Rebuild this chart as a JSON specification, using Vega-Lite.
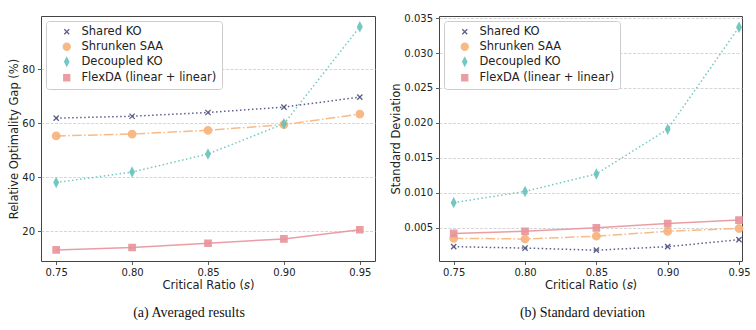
{
  "$schema": "https://vega.github.io/schema/vega-lite/v6.json",
  "padding": {"left": 8, "top": 12, "right": 0, "bottom": 0},
  "background": "white",
  "datasets": {
    "gap": [
      {"ratio": 0.75, "method": "Shared KO", "value": 61.9},
      {"ratio": 0.80, "method": "Shared KO", "value": 62.6},
      {"ratio": 0.85, "method": "Shared KO", "value": 64.0},
      {"ratio": 0.90, "method": "Shared KO", "value": 66.0},
      {"ratio": 0.95, "method": "Shared KO", "value": 69.7},
      {"ratio": 0.75, "method": "Shrunken SAA", "value": 55.3},
      {"ratio": 0.80, "method": "Shrunken SAA", "value": 56.0},
      {"ratio": 0.85, "method": "Shrunken SAA", "value": 57.4},
      {"ratio": 0.90, "method": "Shrunken SAA", "value": 59.5},
      {"ratio": 0.95, "method": "Shrunken SAA", "value": 63.4},
      {"ratio": 0.75, "method": "Decoupled KO", "value": 38.0},
      {"ratio": 0.80, "method": "Decoupled KO", "value": 41.9},
      {"ratio": 0.85, "method": "Decoupled KO", "value": 48.6},
      {"ratio": 0.90, "method": "Decoupled KO", "value": 59.8},
      {"ratio": 0.95, "method": "Decoupled KO", "value": 95.8},
      {"ratio": 0.75, "method": "FlexDA (linear + linear)", "value": 13.0},
      {"ratio": 0.80, "method": "FlexDA (linear + linear)", "value": 13.9},
      {"ratio": 0.85, "method": "FlexDA (linear + linear)", "value": 15.5},
      {"ratio": 0.90, "method": "FlexDA (linear + linear)", "value": 17.1},
      {"ratio": 0.95, "method": "FlexDA (linear + linear)", "value": 20.5}
    ],
    "sd": [
      {"ratio": 0.75, "method": "Shared KO", "value": 0.0023},
      {"ratio": 0.80, "method": "Shared KO", "value": 0.0021},
      {"ratio": 0.85, "method": "Shared KO", "value": 0.0018},
      {"ratio": 0.90, "method": "Shared KO", "value": 0.0023},
      {"ratio": 0.95, "method": "Shared KO", "value": 0.0033},
      {"ratio": 0.75, "method": "Shrunken SAA", "value": 0.0035},
      {"ratio": 0.80, "method": "Shrunken SAA", "value": 0.0034},
      {"ratio": 0.85, "method": "Shrunken SAA", "value": 0.0038},
      {"ratio": 0.90, "method": "Shrunken SAA", "value": 0.0045},
      {"ratio": 0.95, "method": "Shrunken SAA", "value": 0.0049},
      {"ratio": 0.75, "method": "Decoupled KO", "value": 0.0086},
      {"ratio": 0.80, "method": "Decoupled KO", "value": 0.0102},
      {"ratio": 0.85, "method": "Decoupled KO", "value": 0.0127},
      {"ratio": 0.90, "method": "Decoupled KO", "value": 0.0191},
      {"ratio": 0.95, "method": "Decoupled KO", "value": 0.0337},
      {"ratio": 0.75, "method": "FlexDA (linear + linear)", "value": 0.0042},
      {"ratio": 0.80, "method": "FlexDA (linear + linear)", "value": 0.0045},
      {"ratio": 0.85, "method": "FlexDA (linear + linear)", "value": 0.0050},
      {"ratio": 0.90, "method": "FlexDA (linear + linear)", "value": 0.0056},
      {"ratio": 0.95, "method": "FlexDA (linear + linear)", "value": 0.0061}
    ]
  },
  "hconcat": [
    {
      "width": 334,
      "height": 245,
      "data": {"name": "gap"},
      "title": {"text": "(a) Averaged results", "orient": "bottom", "offset": 15, "dx": -19},
      "encoding": {
        "x": {"field": "ratio", "type": "quantitative", "title": "Critical Ratio (𝑠)",
              "scale": {"domain": [0.74, 0.96], "nice": false, "zero": false},
              "axis": {"values": [0.75, 0.8, 0.85, 0.9, 0.95], "format": ".2f", "grid": false}},
        "y": {"field": "value", "type": "quantitative", "title": "Relative Optimality Gap (%)",
              "scale": {"domain": [8.9, 99.8], "nice": false, "zero": false},
              "axis": {"values": [20, 40, 60, 80]}},
        "color": {"field": "method", "type": "nominal", "legend": {"title": null},
                  "scale": {"domain": ["Shared KO", "Shrunken SAA", "Decoupled KO", "FlexDA (linear + linear)"],
                            "range": ["#4b4f7c", "#f7b37a", "#66c2bd", "#e8939a"]}}
      },
      "layer": [
        {
          "transform": [{"filter": {"field": "method", "oneOf": ["Shared KO", "Decoupled KO"]}}],
          "mark": {"type": "line", "strokeWidth": 1.5, "opacity": 0.9, "strokeDash": [1.5, 2.5]}
        },
        {
          "transform": [{"filter": {"field": "method", "equal": "Shrunken SAA"}}],
          "mark": {"type": "line", "strokeWidth": 1.5, "opacity": 0.9, "strokeDash": [9.6, 2.4, 1.5, 2.4]}
        },
        {
          "transform": [{"filter": {"field": "method", "equal": "FlexDA (linear + linear)"}}],
          "mark": {"type": "line", "strokeWidth": 1.5, "opacity": 0.9}
        },
        {
          "mark": {"type": "point", "filled": true, "size": 56, "opacity": 0.9, "strokeWidth": 1.3},
          "encoding": {
            "stroke": {"field": "method", "type": "nominal", "legend": {"title": null},
                      "scale": {"domain": ["Shared KO", "Shrunken SAA", "Decoupled KO", "FlexDA (linear + linear)"],
                                "range": ["#4b4f7c", "#f7b37a", "#66c2bd", "#e8939a"]}},
            "shape": {"field": "method", "type": "nominal", "legend": {"title": null},
                      "scale": {"domain": ["Shared KO", "Shrunken SAA", "Decoupled KO", "FlexDA (linear + linear)"],
                                "range": ["M-0.7,-0.7L0.7,0.7M-0.7,0.7L0.7,-0.7", "circle", "M0,-1.15L0.6,0L0,1.15L-0.6,0Z", "M-0.85,-0.85H0.85V0.85H-0.85Z"]}}
          }
        }
      ]
    },
    {
      "width": 303,
      "height": 245,
      "data": {"name": "sd"},
      "title": {"text": "(b) Standard deviation", "orient": "bottom", "offset": 15, "dx": -8},
      "encoding": {
        "x": {"field": "ratio", "type": "quantitative", "title": "Critical Ratio (𝑠)",
              "scale": {"domain": [0.7397, 0.9521], "nice": false, "zero": false},
              "axis": {"values": [0.75, 0.8, 0.85, 0.9, 0.95], "format": ".2f", "grid": false}},
        "y": {"field": "value", "type": "quantitative", "title": "Standard Deviation",
              "scale": {"domain": [0.00025, 0.0353], "nice": false, "zero": false},
              "axis": {"values": [0.005, 0.01, 0.015, 0.02, 0.025, 0.03, 0.035], "format": ".3f"}},
        "color": {"field": "method", "type": "nominal", "legend": {"title": null},
                  "scale": {"domain": ["Shared KO", "Shrunken SAA", "Decoupled KO", "FlexDA (linear + linear)"],
                            "range": ["#4b4f7c", "#f7b37a", "#66c2bd", "#e8939a"]}}
      },
      "layer": [
        {
          "transform": [{"filter": {"field": "method", "oneOf": ["Shared KO", "Decoupled KO"]}}],
          "mark": {"type": "line", "strokeWidth": 1.5, "opacity": 0.9, "strokeDash": [1.5, 2.5]}
        },
        {
          "transform": [{"filter": {"field": "method", "equal": "Shrunken SAA"}}],
          "mark": {"type": "line", "strokeWidth": 1.5, "opacity": 0.9, "strokeDash": [9.6, 2.4, 1.5, 2.4]}
        },
        {
          "transform": [{"filter": {"field": "method", "equal": "FlexDA (linear + linear)"}}],
          "mark": {"type": "line", "strokeWidth": 1.5, "opacity": 0.9}
        },
        {
          "mark": {"type": "point", "filled": true, "size": 56, "opacity": 0.9, "strokeWidth": 1.3},
          "encoding": {
            "stroke": {"field": "method", "type": "nominal", "legend": {"title": null},
                      "scale": {"domain": ["Shared KO", "Shrunken SAA", "Decoupled KO", "FlexDA (linear + linear)"],
                                "range": ["#4b4f7c", "#f7b37a", "#66c2bd", "#e8939a"]}},
            "shape": {"field": "method", "type": "nominal", "legend": {"title": null},
                      "scale": {"domain": ["Shared KO", "Shrunken SAA", "Decoupled KO", "FlexDA (linear + linear)"],
                                "range": ["M-0.7,-0.7L0.7,0.7M-0.7,0.7L0.7,-0.7", "circle", "M0,-1.15L0.6,0L0,1.15L-0.6,0Z", "M-0.85,-0.85H0.85V0.85H-0.85Z"]}}
          }
        }
      ]
    }
  ],
  "spacing": 14,
  "resolve": {
    "scale": {"color": "independent", "stroke": "independent", "shape": "independent"},
    "legend": {"color": "independent", "stroke": "independent", "shape": "independent"}
  },
  "config": {
    "font": "DejaVu Sans",
    "view": {"stroke": "#444444", "strokeWidth": 1},
    "axis": {
      "domain": false,
      "tickColor": "#333333",
      "tickSize": 3.5,
      "tickWidth": 0.8,
      "labelFont": "DejaVu Sans",
      "labelFontSize": 10,
      "labelColor": "#222222",
      "labelPadding": 3,
      "titleFont": "DejaVu Sans",
      "titleFontSize": 11.5,
      "titleFontWeight": "normal",
      "titleColor": "#222222",
      "titlePadding": 2,
      "gridColor": "#cccccc",
      "gridDash": [3, 1.5],
      "gridWidth": 0.8
    },
    "legend": {
      "orient": "top-left",
      "offset": 5,
      "fillColor": "white",
      "strokeColor": "#cccccc",
      "cornerRadius": 3,
      "padding": 5,
      "labelFont": "DejaVu Sans",
      "labelFontSize": 11.5,
      "labelColor": "#222222",
      "symbolSize": 50,
      "symbolStrokeWidth": 1.3,
      "symbolOffset": 10,
      "labelOffset": 9,
      "rowPadding": 2
    },
    "title": {
      "font": "Liberation Serif",
      "fontSize": 14,
      "fontWeight": "normal",
      "color": "#111111"
    }
  }
}
